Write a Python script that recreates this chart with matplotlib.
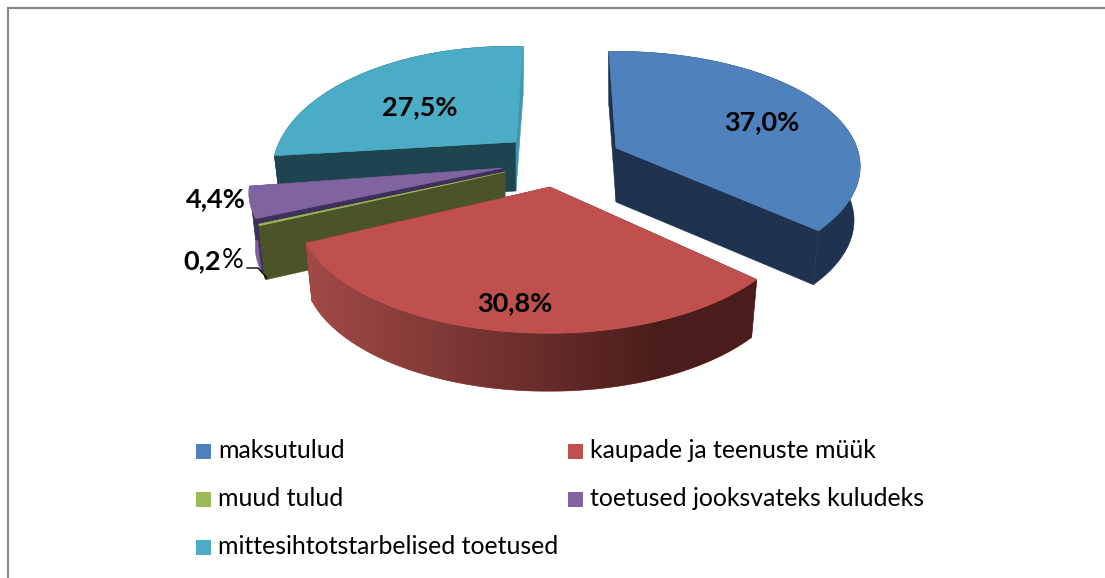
import numpy as np
import matplotlib
matplotlib.use("Agg")
import matplotlib.pyplot as plt
from matplotlib.colors import to_rgb
from matplotlib.patches import Polygon, Rectangle

categories = ["maksutulud", "kaupade ja teenuste müük", "muud tulud",
              "toetused jooksvateks kuludeks", "mittesihtotstarbelised toetused"]
values = [37.0, 30.8, 0.2, 4.4, 27.5]
labels = ["37,0%", "30,8%", "0,2", "4,4%", "27,5%"]

colors = ["#4F81BD", "#C0504D", "#9BBB59", "#8064A2", "#4BACC6"]
face_dark = ["#1F3350", "#4A1D1B", "#4A5428", "#3F2F5B", "#1E4450"]
side_left = ["#1F3350", "#A24A47", "#4A5428", "#7A5F9C", "#1E4450"]
side_right = ["#1F3350", "#4A1D1B", "#4A5428", "#7A5F9C", "#1E4450"]

START = 92.0
# apex x, apex y, a, b, perspective k, skew x, skew y, depth
geom = [
    (616, 148, 241, 112, 0.16, 0, 0, 54),
    (550, 187, 246, 117, 0.20, 8, 4, 58),
    (505, 172, 245, 108, 0.25, 0, 3, 54),
    (503, 168, 246, 105, 0.25, 0, 3, 54),
    (516, 142, 231, 119, 0.25, 17, 10, 49),
]


def project(g, theta, low=False):
    ax_, ay, a, b, k, sx, sy, h = g
    t = np.radians(theta)
    X, Y = np.cos(t), np.sin(t)
    s = 1 / (1 + k * Y)
    x = X * a * s + sx * Y * s
    y = -b * Y * s + sy * X * s
    if low:
        return ax_ + x * 0.975, ay + y + h
    return ax_ + x, ay + y


def draw_rim(ax, i, ths, z):
    g = geom[i]
    top = [project(g, th) for th in ths]
    low = [project(g, th, True) for th in ths[::-1]]
    rim = Polygon(top + low, closed=True, fc=side_left[i], ec=side_left[i], lw=0.4, zorder=z)
    ax.add_patch(rim)
    if side_left[i] != side_right[i]:
        # shading runs left to right across the rim, then stays dark
        xs = np.array([p[0] for p in top + low])
        ys = np.array([p[1] for p in top + low])
        f = np.clip(np.linspace(0, 1, 256) * (xs.max() - xs.min()) / 355, 0, 1)[:, None]
        c0, c1 = np.array(to_rgb(side_left[i])), np.array(to_rgb(side_right[i]))
        grad = (c0 + (c1 - c0) * f)[None, :, :]
        im = ax.imshow(grad, extent=(xs.min(), xs.max(), ys.max(), ys.min()),
                       aspect="auto", zorder=z + 0.01, interpolation="bilinear")
        im.set_clip_path(rim)


def draw_faces(ax, i, th0, th1, z):
    g = geom[i]
    apex = (g[0], g[1])
    apex_low = (g[0], g[1] + g[7])
    for th in (th0, th1):
        col = face_dark[i]
        if i == 4 and th == th1:
            col = "#4097AD"
        face = [apex, project(g, th), project(g, th, True), apex_low]
        ax.add_patch(Polygon(face, closed=True, fc=col, ec=col, lw=0.4, zorder=z))


def draw_slice(ax, i, th0, th1, z):
    g = geom[i]
    ths = np.linspace(th0, th1, 120)
    if i == 1:
        draw_faces(ax, i, th0, th1, z)
        draw_rim(ax, i, ths, z + 0.1)
    else:
        draw_rim(ax, i, ths, z)
        draw_faces(ax, i, th0, th1, z + 0.1)
    pts = [(g[0], g[1])] + [project(g, th) for th in ths]
    ax.add_patch(Polygon(pts, closed=True, fc=colors[i], ec=colors[i], lw=0.4, zorder=z + 0.2))


fig = plt.figure(figsize=(11.05, 5.78), dpi=100)
ax = fig.add_axes([0, 0, 1, 1])
ax.set_xlim(0, 1105)
ax.set_ylim(578, 0)
ax.set_autoscale_on(False)
ax.axis("off")

# chart border
ax.plot([8, 8, 1105], [578, 8, 8], color="#868686", lw=1.5, solid_joinstyle="miter")

# slice angles, clockwise from the start angle
angles = np.array(values) / sum(values) * 360
ends = START - np.cumsum(angles)
starts = ends + angles
order = [4, 3, 2, 0, 1]
for z, i in enumerate(order):
    draw_slice(ax, i, starts[i], ends[i], 2 + z)

plt.rcParams["font.family"] = ["Lato", "DejaVu Sans"]
lab_size = 19.5
lab_pos = [(762, 122), (515, 303), (221, 261), (216, 199), (420, 107)]
for i, (x, y) in enumerate(lab_pos):
    ax.text(x, y, labels[i], fontsize=lab_size, fontweight="bold", color="black",
            ha="right" if i == 2 else "center", va="center", zorder=20)
ax.text(222, 261, "%", fontsize=lab_size, color="black", ha="left", va="center", zorder=20)
# leader line for the 0,2% label
ax.plot([247, 258, 267], [268, 268, 278], color="black", lw=1, zorder=20)

# legend
leg_x = [196, 196, 196, 568, 568]
leg_y = [451, 499, 547, 451, 499]
leg_idx = [0, 2, 4, 1, 3]
for n, i in enumerate(leg_idx):
    ax.add_patch(Rectangle((leg_x[n], leg_y[n] - 7.5), 15, 15, fc=colors[i], ec="none"))
    ax.text(leg_x[n] + 22, leg_y[n], categories[i], fontsize=17.9, color="black",
            ha="left", va="center")

fig.savefig("out.png", dpi=100)
